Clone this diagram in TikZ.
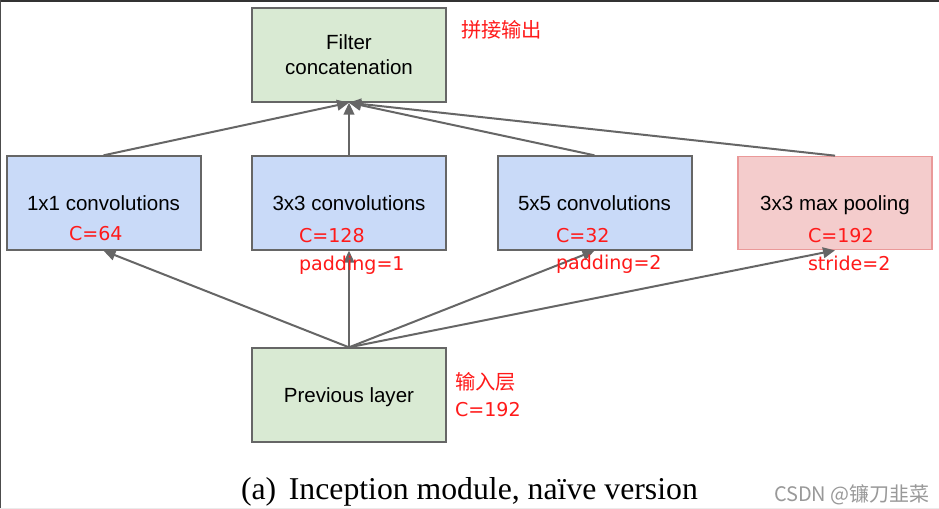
\documentclass[tikz,border=0pt]{standalone}
\usepackage{fontspec}
\setmainfont{Liberation Serif}
\setsansfont{Liberation Sans}
\newfontfamily\cjk{Noto Sans CJK SC}
\newfontfamily\notefont{DejaVu Sans}
\usetikzlibrary{arrows.meta}

\definecolor{layergreen}{HTML}{D9EAD3}
\definecolor{layerblue}{HTML}{C9DAF8}
\definecolor{layerpink}{HTML}{F4CCCC}
\definecolor{pinkedge}{HTML}{EA9999}
\definecolor{edgegray}{HTML}{666666}
\definecolor{notered}{HTML}{FF1A1A}

\begin{document}
\begin{tikzpicture}
[x=0.75pt, y=-0.75pt, line width=1.5pt,
font=\sffamily\fontsize{15.4}{18.75}\selectfont,
layer/.style={rectangle, draw=edgegray, minimum width=145.5pt, minimum height=70pt, inner sep=0pt, align=center, text depth=0pt},
link/.style={draw=edgegray, -{Triangle[length=9pt,width=8pt]}},
note/.style={text=notered, anchor=base west, inner sep=0pt, font=\notefont\fontsize{14.3}{17}\selectfont},
cjknote/.style={text=notered, anchor=base west, inner sep=0pt, font=\cjk\fontsize{15.2}{18}\selectfont}]

\useasboundingbox (0,0) rectangle (939,509);
\fill[white] (0,0) rectangle (939,509);
\fill[black!80] (0,0) rectangle (939,2.5);
\draw[black!70, line width=0.75pt] (0.5,0) -- (0.5,509);
\draw[black!8, line width=0.75pt] (0,508) -- (939,508);

% layers
\node[layer, fill=layergreen] (concat) at (349, 55) {Filter\\concatenation};
\node[layer, fill=layerblue] (conv1) at (103.5, 203) {1x1 convolutions};
\node[layer, fill=layerblue] (conv3) at (349, 203) {3x3 convolutions};
\node[layer, fill=layerblue] (conv5) at (594.5, 203) {5x5 convolutions};
\node[layer, fill=layerpink, draw=pinkedge, line width=1pt] (pool) at (835, 203) {3x3 max pooling};
\node[layer, fill=layergreen] (prev) at (349, 395) {Previous layer};

\foreach \b in {conv1, conv3, conv5, pool} {
    \draw[link] (\b.north) -- (concat.south);
    \draw[link] (prev.north) -- (\b.south);
}

% notes
\node[cjknote] (concatnote) at (460, 38) {拼接输出};
\node[note] (c1) at (68, 241) {C=64};
\node[note] (c3) at (298, 243) {C=128};
\node[note] (p3) at (298, 271) {padding=1};
\node[note] (c5) at (555, 243) {C=32};
\node[note] (p5) at (555, 270) {padding=2};
\node[note] (cpool) at (807, 243) {C=192};
\node[note] (spool) at (807, 271) {stride=2};
\node[cjknote] (prevnote) at (454, 390) {输入层};
\node[note] (cprev) at (454, 417) {C=192};

\node[anchor=base west, inner sep=0pt, font=\rmfamily\fontsize{23.8}{28}\selectfont] (caption) at (240, 499) {(a)\hspace{0.4em}Inception module, na\"ive version};
\node[anchor=base west, inner sep=0pt, text=black!40, font=\cjk\fontsize{15}{18}\selectfont] (mark) at (773, 501) {CSDN @镰刀韭菜};

\end{tikzpicture}
\end{document}
